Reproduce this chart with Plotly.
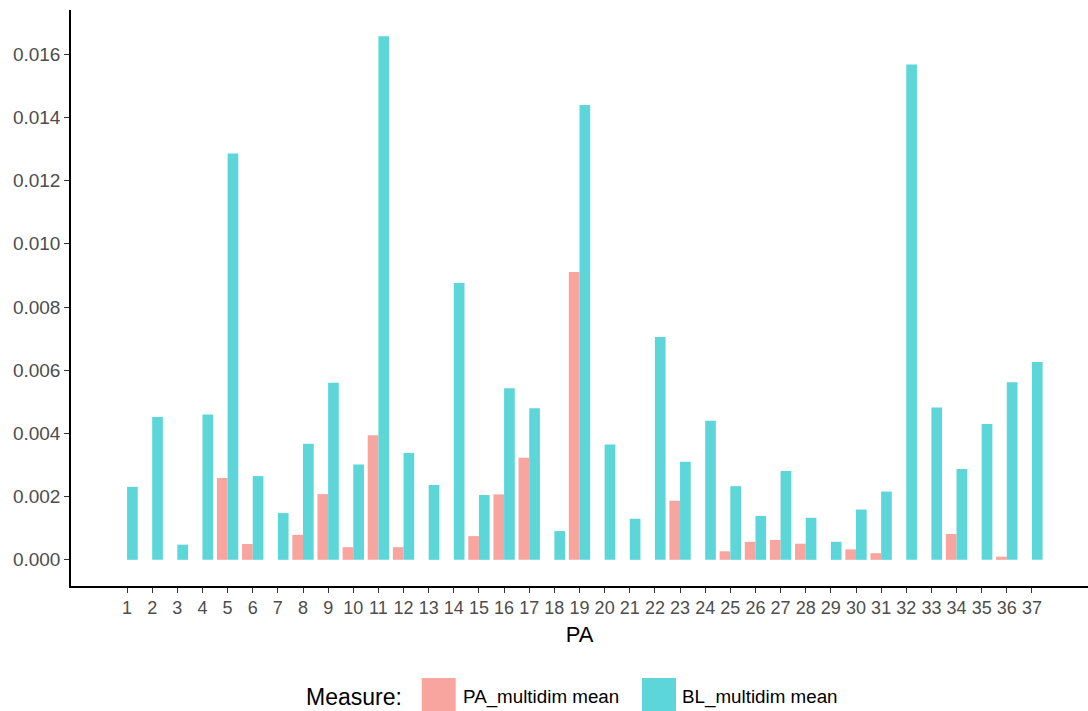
import plotly.graph_objects as go

# Protected-area index and the two multidimensional means per area
pa_ids = list(range(1, 38))
pa_multidim_mean = [
    None, None, None, None, 0.00259, 0.00050, None, 0.00079, 0.00208, 0.00040,
    0.00394, 0.00040, None, None, 0.00075, 0.00207, 0.00323, None, 0.00911, None,
    None, None, 0.00187, None, 0.00027, 0.00057, 0.00063, 0.00051, None, 0.00033,
    0.00021, None, None, 0.00082, None, 0.00010, None,
]
bl_multidim_mean = [
    0.00231, 0.00452, 0.00048, 0.00460, 0.01286, 0.00265, 0.00148, 0.00367, 0.00560, 0.00302,
    0.01657, 0.00338, 0.00237, 0.00876, 0.00205, 0.00543, 0.00480, 0.00091, 0.01439, 0.00365,
    0.00130, 0.00705, 0.00310, 0.00440, 0.00233, 0.00139, 0.00281, 0.00133, 0.00057, 0.00159,
    0.00216, 0.01567, 0.00482, 0.00287, 0.00430, 0.00562, 0.00626,
]
y_ticks = [0.000, 0.002, 0.004, 0.006, 0.008, 0.010, 0.012, 0.014, 0.016]

series_names = ["PA_multidim mean", "BL_multidim mean"]
series_colors = ["#F8A5A0", "#5DD6DA"]

W, H = 1088, 711
ML, MR, MT, MB = 71, 0, 10, 125
PW, PH = W - ML - MR, H - MT - MB

FONT = "Arial, Liberation Sans, sans-serif"


def px_x(px):
    return (px - ML) / PW


def px_y(py):
    return (H - MB - py) / PH


fig = go.Figure()
for name, vals, col in zip(series_names, [pa_multidim_mean, bl_multidim_mean], series_colors):
    fig.add_trace(go.Bar(
        x=pa_ids, y=vals, name=name,
        marker=dict(color=col, line=dict(width=0)),
        showlegend=False,
    ))

ymax = max(bl_multidim_mean)
pad = 0.05 * ymax

fig.update_layout(
    width=W, height=H, autosize=False,
    margin=dict(l=ML, r=MR, t=MT, b=MB, pad=0),
    paper_bgcolor="white", plot_bgcolor="white",
    barmode="group", bargap=0.15, bargroupgap=0,
    font=dict(family=FONT, color="#4D4D4D"),
    xaxis=dict(
        range=[-1.23, 39.23],
        tickmode="array", tickvals=pa_ids, ticktext=[str(i) for i in pa_ids],
        showline=True, linecolor="black", linewidth=1.5,
        ticks="outside", ticklen=5, tickwidth=1.3, tickcolor="#333333",
        tickfont=dict(size=18, color="#4D4D4D", family=FONT),
        showgrid=False, zeroline=False,
        title=dict(text="PA", font=dict(size=22, color="black", family=FONT), standoff=9),
    ),
    yaxis=dict(
        range=[-pad, ymax + pad],
        tickmode="array", tickvals=y_ticks, tickformat=".3f",
        showline=True, linecolor="black", linewidth=1.5,
        ticks="outside", ticklen=5, tickwidth=1.3, tickcolor="#333333",
        tickfont=dict(size=19, color="#4D4D4D", family=FONT),
        showgrid=False, zeroline=False,
    ),
)

# Legend drawn beneath the axis title: caption, colour keys and labels
legend_y = 697
key_boxes = [(421.7, 455.7), (642, 676)]
label_x = [462.7, 681.7]
shapes = []
annotations = [dict(
    x=px_x(304), y=px_y(legend_y), xref="paper", yref="paper",
    text="Measure:", showarrow=False, xanchor="left", yanchor="middle",
    font=dict(size=23, color="black", family=FONT),
)]
for (x0, x1), lx, name, col in zip(key_boxes, label_x, series_names, series_colors):
    shapes.append(dict(
        type="rect", xref="paper", yref="paper",
        x0=px_x(x0), x1=px_x(x1), y0=px_y(678), y1=px_y(712),
        fillcolor=col, line=dict(width=0), layer="above",
    ))
    annotations.append(dict(
        x=px_x(lx - 2), y=px_y(legend_y), xref="paper", yref="paper",
        text=name, showarrow=False, xanchor="left", yanchor="middle",
        font=dict(size=18.8, color="black", family=FONT),
    ))
fig.update_layout(shapes=shapes, annotations=annotations)

fig.write_html("out.html")
